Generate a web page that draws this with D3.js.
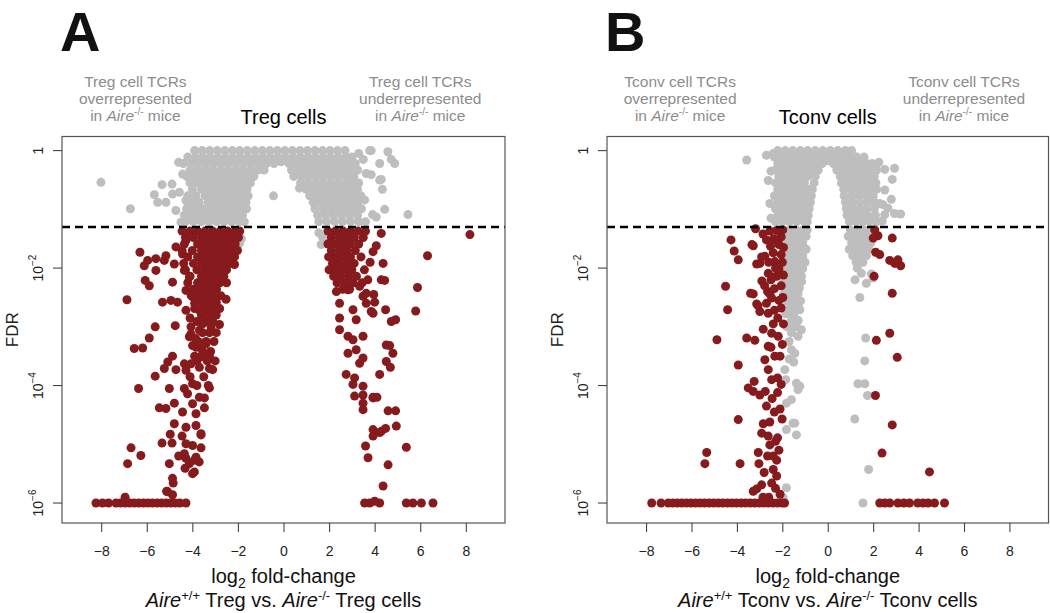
<!DOCTYPE html>
<html><head><meta charset="utf-8">
<script src="https://cdn.jsdelivr.net/npm/d3@7"></script>
<style>
body{margin:0;background:#fff}
svg{display:block}
text{font-family:"Liberation Sans",Arial,Helvetica,sans-serif}
</style>
</head><body>
<svg id="chart" width="1050" height="613"></svg>
<script>
// ---------------- data (log2 fold-change, log10 FDR) ----------------
const xTickValues = [-8,-6,-4,-2,0,2,4,6,8];
const yTickExponents = [0,-2,-4,-6];
const fdrCutoff = 0.05;
const panelLetters = ["A","B"];
const panelTitles = ["Treg cells","Tconv cells"];
const cellNames = ["Treg","Tconv"];

// Panel A (Treg) grey points: rows of [log10 FDR, [log2FC ...]]
const tregGrayRows = [
 [0,[-3.9,-3.57,-3.24,-2.91,-2.58,-2.25,-1.92,-1.59,-1.26,-0.93,-0.6,-0.27,0.06,0.39,0.72,1.05,1.38,1.71,2.04,2.37,2.7]],
 [-0.11,[-4.2,-3.87,-3.54,-3.21,-2.88,-2.55,-2.22,-1.89,-1.56,-1.23,-0.9,-0.57,-0.24,0.09,0.42,0.75,1.08,1.41,1.74,2.07,2.4,2.73,3.0]],
 [-0.19,[-0.1]],
 [-0.22,[-4.4,-4.05,-3.72,-3.39,-3.06,-2.73,-2.4,-2.07,-1.74,-1.41,-1.08,-0.75,-0.42,0.24,0.57,0.9,1.23,1.56,1.89,2.22,2.55,2.88,3.15]],
 [-0.33,[-4.1,-3.77,-3.44,-3.11,-2.78,-2.45,-2.12,-1.79,-1.46,-1.13,-0.85,0.35,0.68,1.01,1.34,1.67,2.0,2.33,2.66,2.99,3.25]],
 [-0.44,[-4.25,-3.92,-3.59,-3.26,-2.93,-2.6,-2.27,-1.94,-1.61,-1.3,0.45,0.78,1.11,1.44,1.77,2.1,2.43,2.76,3.09]],
 [-0.55,[-4.1,-3.77,-3.44,-3.11,-2.78,-2.45,-2.12,-1.79,-1.45,0.75,1.05,1.38,1.71,2.04,2.37,2.7,3.03,3.3]],
 [-0.66,[-4.0,-3.6,-3.27,-2.94,-2.61,-2.28,-1.95,-1.6,1.0,1.3,1.63,1.96,2.29,2.62,2.95,3.25]],
 [-0.77,[-4.2,-3.84,-3.44,-3.11,-2.78,-2.45,-2.12,-1.79,-1.55,1.15,1.45,1.78,2.11,2.44,2.77,3.1,3.4]],
 [-0.88,[-4.05,-3.7,-3.3,-2.97,-2.64,-2.31,-1.98,-1.65,1.3,1.62,1.95,2.28,2.61,2.94,3.27]],
 [-0.99,[-4.25,-3.9,-3.55,-3.2,-2.85,-2.52,-2.19,-1.86,-1.62,1.38,1.75,2.1,2.45,2.78,3.11,3.42]],
 [-1.10,[-4.1,-3.75,-3.4,-3.07,-2.74,-2.41,-2.08,-1.8,1.5,1.85,2.2,2.55,2.9,3.25]],
 [-1.21,[-4.3,-3.95,-3.6,-3.27,-2.94,-2.61,-2.28,-1.95,-1.72,1.55,1.9,2.25,2.6,2.95,3.3,3.6]]
];
const tregGrayPoints = [
 [-8.01,-0.54],[-6.72,-0.99],[-5.67,-0.75],[-5.33,-0.58],[-4.89,-0.57],[-4.87,-0.74],[-5.16,-0.88],[-5.52,-0.88],
 [-4.43,-0.40],[-4.57,-0.71],[-4.28,-0.85],[-4.72,-1.02],[-4.35,-1.1],[-3.99,-1.19],[-4.6,-0.2],[-4.5,-1.22],
 [3.78,0],[4.58,-0.02],[4.73,-0.15],[4.88,-0.22],[4.22,-0.22],[3.85,-0.41],[4.22,-0.5],[4.34,-0.66],[4.44,-1.0],
 [4.07,-1.13],[5.46,-1.09],[3.85,0],[4.29,-0.49],[3.56,-0.84],[3.91,-1.09],[3.63,-0.39],[3.3,-0.05],[3.5,-0.15],
 [-0.44,-0.77],[0.7,-0.64],
 [-2.0,-1.4],[-1.85,-1.5],[-1.93,-1.58],[1.55,-1.4],[1.71,-1.47],[1.9,-1.58],[1.65,-1.6]
];
// Panel A red (significant) points
const tregRedRows = [
 [-1.37,[-4.45,-4.1,-3.77,-3.44,-3.11,-2.78,-2.45,-2.12,-1.92,1.95,2.28,2.61,2.94,3.27,3.6]],
 [-1.48,[-4.3,-3.95,-3.6,-3.27,-2.94,-2.61,-2.28,-1.98,2.1,2.45,2.78,3.11,3.5]],
 [-1.59,[-4.35,-3.77,-3.44,-3.11,-2.78,-2.45,-2.12,1.95,2.28,2.61,2.94,3.3]],
 [-1.70,[-4.45,-4.0,-3.6,-3.27,-2.94,-2.61,-2.28,-2.02,2.1,2.45,2.78,3.15]],
 [-1.81,[-4.2,-3.77,-3.44,-3.11,-2.78,-2.45,-2.15,1.98,2.28,2.61,2.94,3.4]],
 [-1.92,[-4.38,-3.95,-3.6,-3.27,-2.94,-2.61,-2.3,2.15,2.45,2.8,3.1]],
 [-2.03,[-4.3,-3.8,-3.44,-3.11,-2.78,-2.5,2.0,2.3,2.65,3.0,3.55]],
 [-2.14,[-4.1,-3.6,-3.27,-2.94,-2.62,2.2,2.5,2.85,3.2]],
 [-2.25,[-4.2,-3.77,-3.44,-3.11,-2.8,-2.5,2.35,2.7,3.05,3.45]],
 [-2.36,[-3.95,-3.6,-3.27,-2.94,2.6,2.9]],
 [-2.47,[-4.05,-3.77,-3.44,-3.1,-2.75]],
 [-2.58,[-3.6,-3.27,-2.95]],
 [-2.69,[-3.9,-3.44,-3.1,-2.8]],
 [-2.80,[-3.6,-3.27,-2.95]],
 [-2.91,[-3.8,-3.44,-3.1]],
 [-3.10,[-3.55,-3.25,-2.95]],
 [-3.25,[-3.75,-3.4,-3.05]],
 [-3.42,[-3.55,-3.2]],
 [-3.58,[-3.8,-3.35,-3.0]],
 [-6.0,[-8.23,-7.94,-7.68,-7.35,-7.15,-6.95,-6.75,-6.55,-6.35,-6.15,-5.95,-5.75,-5.55,-5.35,-5.15,-4.95,-4.75,-4.55,-4.28,3.56,3.78,4.22,5.39,5.68,6.05,6.56]]
];
const tregRedPoints = [
 [-6.30,-1.73],[-6.11,-1.96],[-6.07,-2.21],[-5.89,-2.30],[-5.96,-1.87],[-5.6,-1.84],[-5.6,-2.04],[-5.23,-1.87],[-5.16,-1.79],
 [-4.79,-1.93],[-4.72,-1.64],[-4.87,-2.24],[-5.31,-2.58],[-4.94,-2.55],[-4.65,-2.58],[-6.87,-2.54],[-5.63,-3.0],[-4.75,-2.98],
 [-5.89,-3.19],[-6.55,-3.37],[-6.18,-3.36],[-4.87,-3.50],[-5.08,-3.6],[-5.23,-3.71],[-5.63,-3.84],[-4.72,-3.73],[-4.35,-3.63],
 [-3.99,-3.32],[-4.06,-3.12],[-6.36,-4.05],[-5.01,-4.05],[-4.35,-4.05],[-5.45,-4.38],[-4.79,-4.30],[-5.16,-4.39],[-4.43,-4.45],
 [-4.79,-4.65],[-4.97,-4.83],[-4.45,-4.86],[-5.33,-4.98],[-4.89,-4.98],[-6.69,-5.06],[-3.99,-5.02],[-6.26,-5.19],[-6.84,-5.33],
 [-5.01,-5.33],[-4.60,-5.20],[-4.28,-5.24],[-3.91,-5.27],[-4.32,-5.41],[-3.99,-5.50],[-4.84,-5.66],[-5.13,-5.80],[-6.95,-5.9],
 [-5.08,-5.81],[-4.87,-5.86],
 [-4.28,-1.53],[-4.43,-1.76],[-4.35,-2.04],[-4.13,-2.15],[-3.69,-2.32],[-3.25,-2.27],[-4.28,-2.38],[-3.99,-2.49],[-4.28,-2.72],
 [-3.69,-2.72],[-3.40,-2.83],[-4.06,-3.0],[-4.13,-3.17],[-3.69,-3.06],[-3.18,-3.0],[-3.40,-3.29],[-3.84,-3.35],[-3.62,-3.51],
 [-4.06,-3.63],[-4.28,-3.74],[-3.69,-3.69],[-3.25,-3.71],[-3.99,-3.97],[-4.21,-4.14],[-3.69,-4.2],[-3.99,-4.31],[-3.84,-4.48],
 [-4.28,-4.71],[-3.84,-4.68],[-3.62,-4.82],[-4.28,-4.99],[-4.35,-5.16],[-3.84,-5.22],[-4.13,-5.33],[-3.91,-5.47],[-4.87,-5.58],
 [-2.52,-2.53],[-2.15,-1.94],[-2.81,-2.96],[-3.11,-3.73],[-3.25,-4.04],[-3.47,-4.21],[-3.47,-4.38],[-3.62,-4.84],[-3.62,-5.06],[-3.7,-5.3],
 [-3.9,-2.6],[-4.1,-2.85],[-3.55,-2.95],[-3.85,-3.2],[-3.55,-3.3],[-3.25,-3.5],[-3.9,-3.5],[-3.5,-3.85],[-3.8,-4.0],[-4.1,-3.85],[-3.3,-4.0],
 [2.32,-2.40],[2.83,-2.37],[2.46,-2.60],[3.05,-2.71],[3.49,-2.48],[3.63,-2.60],[3.85,-2.74],[2.46,-2.85],[3.19,-2.88],[2.46,-3.05],
 [2.83,-3.16],[3.05,-3.22],[3.49,-3.16],[2.83,-3.45],[3.19,-3.39],[3.34,-3.62],[3.49,-3.53],[2.75,-3.81],[3.12,-3.87],[3.05,-3.98],
 [3.49,-4.01],[3.12,-4.18],[3.49,-4.16],[3.93,-4.21],[3.49,-4.3],[3.49,-4.41],[4.22,-3.81],[4.29,-2.2],[4.37,-1.92],[4.29,-1.41],
 [4.51,-3.31],[3.93,-4.75],[4.29,-4.78],[3.6,-5.03],[3.71,-5.23],[4.37,-5.71],[4.59,-5.35],[3.34,-2.31],[3.63,-2.43],
 [8.18,-1.43],[6.32,-1.79],[5.88,-2.33],[5.80,-2.73],[4.07,-1.62],[3.93,-1.72],[4.44,-2.21],[3.96,-2.45],[4.0,-2.58],[3.93,-2.77],
 [4.48,-2.71],[4.73,-2.91],[4.92,-2.88],[4.66,-3.32],[4.80,-3.45],[4.51,-3.59],[4.69,-3.69],[3.93,-4.2],[4.1,-4.2],[4.59,-4.43],
 [4.92,-4.43],[4.95,-4.69],[4.48,-4.73],[4.22,-4.80],[3.93,-4.86],[5.39,-5.05],[3.8,-1.9],[3.7,-2.2],[4.0,-5.97]
];

// Panel B (Tconv) grey points
const tconvGrayRows = [
 [0,[-2.2,-1.87,-1.54,-1.21,-0.88,-0.55,-0.22,0.11,0.44,0.77,1.05]],
 [-0.11,[-2.35,-2.02,-1.69,-1.36,-1.03,-0.7,-0.37,-0.04,0.29,0.62,0.95,1.28,1.6]],
 [-0.17,[0.0]],
 [-0.22,[-2.2,-1.87,-1.54,-1.21,-0.88,-0.55,-0.25,0.25,0.5,0.8,1.1,1.4,1.7,1.95]],
 [-0.33,[-2.3,-2.0,-1.69,-1.36,-1.03,-0.7,-0.42,0.4,0.7,1.0,1.3,1.6,1.9,2.15]],
 [-0.44,[-2.15,-1.85,-1.54,-1.21,-0.88,-0.55,0.55,0.85,1.15,1.45,1.75,2.05]],
 [-0.55,[-2.3,-2.0,-1.69,-1.36,-1.03,-0.6,0.6,0.92,1.25,1.55,1.85,2.12]],
 [-0.66,[-2.2,-1.85,-1.54,-1.21,-0.88,-0.68,0.7,1.0,1.3,1.6,1.9,2.15]],
 [-0.77,[-2.35,-2.0,-1.69,-1.36,-1.03,-0.72,0.72,1.05,1.38,1.7,2.0]],
 [-0.88,[-2.2,-1.85,-1.54,-1.21,-0.95,-0.76,0.78,1.1,1.42,1.75,2.05]],
 [-0.99,[-2.3,-2.0,-1.69,-1.36,-1.03,-0.82,0.82,1.1,1.4,1.7,2.05]],
 [-1.10,[-2.2,-1.85,-1.54,-1.21,-0.95,-0.86,0.85,1.15,1.45,1.75,2.1]],
 [-1.21,[-2.3,-2.0,-1.69,-1.36,-1.03,-0.9,0.95,1.25,1.55,1.85,2.15]],
 [-1.35,[-2.0,-1.7,-1.4,-1.1,-0.9,1.0,1.3,1.6,1.9]],
 [-1.46,[-1.85,-1.55,-1.25,-0.95,0.9,1.2,1.5,1.8,2.05]],
 [-1.57,[-2.0,-1.7,-1.4,-1.1,1.05,1.35,1.65,1.9]],
 [-1.68,[-1.85,-1.55,-1.25,-0.95,0.95,1.25,1.55,1.8]],
 [-1.79,[-2.0,-1.7,-1.4,-1.1,1.1,1.4,1.7]],
 [-1.90,[-1.85,-1.55,-1.25,-1.0,1.25,1.55]],
 [-2.01,[-1.95,-1.7,-1.4,-1.1]],
 [-2.12,[-1.85,-1.55,-1.25]],
 [-2.23,[-1.95,-1.7,-1.4,-1.15]],
 [-2.34,[-1.8,-1.5,-1.25]],
 [-2.45,[-1.95,-1.65,-1.35]],
 [-2.56,[-1.8,-1.5,-1.2]],
 [-2.67,[-1.65,-1.35]],
 [-2.78,[-1.85,-1.5]],
 [-2.89,[-1.6,-1.3]],
 [-3.00,[-1.8,-1.45]]
];
const tconvGrayPoints = [
 [-3.57,-0.16],[-2.70,-0.08],[-2.4,-0.05],[-2.62,-0.51],[-2.5,-0.35],[-2.55,-0.9],[-2.5,-1.15],
 [2.94,-0.30],[2.84,-0.49],[2.51,-0.67],[2.80,-0.83],[2.43,-0.92],[2.65,-0.98],[2.94,-1.07],[3.21,-1.08],[2.51,-1.09],
 [2.29,-0.90],[2.51,-0.32],[2.25,-0.2],[2.4,-1.2],
 [1.48,-2.09],[1.70,-2.26],[1.99,-2.17],[1.92,-2.1],[1.41,-2.5],[1.67,-3.19],[1.63,-3.58],[1.33,-3.97],[1.63,-3.97],
 [1.75,-4.17],[1.19,-4.57],[1.80,-5.43],[1.55,-6.0],[1.2,-2.2],[1.3,-2.0],
 [-1.82,-2.37],[-1.31,-2.65],[-1.16,-3.05],[-1.60,-3.39],[-1.89,-3.73],[-1.31,-4.07],[-1.60,-4.24],[-1.82,-4.30],[-1.53,-4.64],
 [-1.82,-4.75],[-1.38,-4.84],[-1.82,-5.74],[-1.96,-5.91],[-1.16,-1.92],[-1.16,-2.14],[-1.31,-2.43],[-1.23,-2.71],[-1.38,-2.94],
 [-1.31,-3.16],[-1.45,-3.45],[-1.45,-4.64],[-1.3,-4.0],[-1.6,-3.1],[-1.7,-3.25],[-1.5,-3.6],[-1.7,-3.55],[-1.85,-3.9],[-1.6,-2.2],
 [-1.38,-3.96],[-1.23,-4.01]
];
const tconvRedRows = [
 [-6.0,[-7.75,-7.34,-7.02,-6.82,-6.62,-6.42,-6.22,-6.02,-5.82,-5.62,-5.42,-5.22,-5.02,-4.82,-4.62,-4.42,-4.22,-4.02,-3.82,-3.62,
        -3.42,-3.22,-3.02,-2.82,-2.62,-2.42,-2.22,-2.02,-1.9,2.29,2.51,2.73,3.09,3.35,3.6,3.96,4.2,4.42,4.7,5.14]]
];
const tconvRedPoints = [
 [2.07,-1.35],[2.21,-1.45],[2.0,-1.49],[2.84,-1.49],[2.11,-1.73],[2.29,-1.77],[2.73,-1.87],[3.09,-1.86],[3.21,-1.96],[2.95,-1.92],
 [2.04,-2.14],[2.84,-2.43],[2.73,-3.11],[2.14,-3.23],[3.06,-3.52],[2.10,-4.17],[2.84,-4.67],[2.39,-5.15],[4.48,-5.47],
 [-4.26,-1.52],[-4.12,-1.71],[-3.94,-1.86],[-4.5,-2.31],[-4.41,-2.71],[-4.88,-3.22],[-3.94,-3.65],[-3.94,-4.58],[-5.33,-5.14],
 [-5.41,-5.33],[-3.86,-5.33],[-3.40,-2.43],[-3.34,-1.60],[-3.57,-3.19],[-3.21,-3.23],[-3.13,-2.61],[-3.50,-4.04],[-3.28,-4.1],
 [-2.99,-4.16],[-3.24,-3.93],
 [-3.18,-1.33],[-2.85,-1.42],[-2.55,-1.37],[-2.25,-1.36],[-1.98,-1.35],[-2.05,-1.47],[-2.38,-1.5],[-2.7,-1.52],[-2.52,-1.63],
 [-2.15,-1.6],[-1.95,-1.65],[-2.05,-1.77],[-2.4,-1.74],[-2.77,-1.80],[-2.99,-1.92],[-2.33,-1.89],[-2.0,-1.9],[-2.15,-2.01],
 [-2.62,-2.09],[-2.25,-2.14],[-1.95,-2.12],[-2.9,-2.22],[-2.65,-2.40],[-2.35,-2.35],[-2.05,-2.3],[-2.47,-2.51],[-2.15,-2.55],
 [-2.99,-2.74],[-2.62,-2.77],[-2.35,-2.72],[-2.05,-2.68],[-2.84,-3.04],[-2.47,-3.11],[-2.18,-3.16],[-2.62,-3.33],[-2.0,-3.3],
 [-2.33,-3.50],[-2.77,-3.56],[-2.62,-3.73],[-2.47,-3.90],[-2.21,-3.87],[-2.21,-4.12],[-2.45,-4.22],[-2.7,-4.35],[-2.01,-4.57],
 [-2.84,-4.65],[-2.55,-4.62],[-2.91,-4.81],[-2.62,-4.86],[-2.21,-4.89],[-2.55,-5.01],[-2.3,-4.95],[-3.06,-5.14],[-2.65,-5.20],
 [-2.25,-5.27],[-3.03,-5.33],[-2.40,-5.43],[-2.80,-5.48],[-2.25,-5.54],[-2.47,-5.66],[-2.91,-5.69],[-3.13,-5.76],[-2.3,-5.75],
 [-3.28,-5.80],[-2.1,-5.85],[-2.6,-5.9],[-2.7,-2.6],[-2.4,-2.95],[-2.1,-3.5],[-2.5,-3.35],[-2.05,-3.98],[-2.35,-4.45],[-2.1,-4.4],
 [-2.75,-4.1],[-2.4,-5.2],[-2.15,-5.1],[-2.85,-5.9],[-2.2,-1.55],[-2.6,-1.9],[-2.3,-2.0],[-1.98,-2.5],[-2.5,-2.2],[-2.78,-2.3],
 [-2.2,-2.85],[-1.95,-2.95],[-3.28,-1.62],[-2.91,-1.81],[-3.13,-1.93],[-2.4,-2.15],[-3.28,-2.44],[-3.07,-2.64],[-2.55,-2.44]
];

// ---------------- drawing ----------------
const svg = d3.select("#chart");
svg.append("rect").attr("width",1050).attr("height",613).attr("fill","#fff");

const GREY = "#bebebe", RED = "#861a1c", ANNOT = "#8c8c8c";
const DOT_R = 4.5;
const rowsToPoints = rows => rows.flatMap(([ly, xs]) => xs.map(x => [x, ly]));

const panels = [
  {letter:panelLetters[0], title:panelTitles[0], cell:cellNames[0], box:{l:62,r:505,t:136.5,b:523},
   gray: rowsToPoints(tregGrayRows).concat(tregGrayPoints), red: rowsToPoints(tregRedRows).concat(tregRedPoints)},
  {letter:panelLetters[1], title:panelTitles[1], cell:cellNames[1], box:{l:607,r:1048.5,t:136.5,b:523},
   gray: rowsToPoints(tconvGrayRows).concat(tconvGrayPoints), red: rowsToPoints(tconvRedRows).concat(tconvRedPoints)}
];

panels.forEach(p => {
  const {l,r,t,b} = p.box;
  const cx = (l + r) / 2;
  const x = d3.scaleLinear().domain([-9.72, 9.72]).range([l, r]);
  const y = d3.scaleLog().domain([Math.pow(10,-6.34), Math.pow(10,0.24)]).range([b, t]);
  const g = svg.append("g");

  // panel letter
  g.append("text").attr("x", l - 2).attr("y", 50.5).attr("font-size", 56).attr("font-weight", 900)
    .attr("fill", "#111").text(p.letter);

  // annotations
  const annot = (ax, line2) => {
    const tx = g.append("text").attr("text-anchor","middle").attr("font-size",15.5).attr("fill",ANNOT);
    tx.append("tspan").attr("x", ax).attr("y", 87).text(p.cell + " cell TCRs");
    tx.append("tspan").attr("x", ax).attr("y", 104).text(line2);
    const t3 = tx.append("tspan").attr("x", ax).attr("y", 121);
    t3.append("tspan").text("in ");
    t3.append("tspan").attr("font-style","italic").text("Aire");
    t3.append("tspan").attr("font-size",10).attr("dy",-6).text("-/-");
    t3.append("tspan").attr("dy",6).text(" mice");
  };
  annot(x(-6.5), "overrepresented");
  annot(x(6.0), "underrepresented");

  // title
  g.append("text").attr("x", cx).attr("y", 124).attr("text-anchor","middle").attr("font-size",20)
    .attr("fill","#000").text(p.title);

  // points
  g.append("g").selectAll("circle").data(p.gray).join("circle")
    .attr("cx", d => x(d[0])).attr("cy", d => y(Math.pow(10, d[1]))).attr("r", DOT_R).attr("fill", GREY);
  g.append("g").selectAll("circle").data(p.red).join("circle")
    .attr("cx", d => x(d[0])).attr("cy", d => y(Math.pow(10, d[1]))).attr("r", DOT_R).attr("fill", RED);

  // cutoff line
  g.append("line").attr("x1", l).attr("x2", r).attr("y1", y(fdrCutoff)).attr("y2", y(fdrCutoff))
    .attr("stroke","#000").attr("stroke-width",2.6).attr("stroke-dasharray","8,5");

  // box
  g.append("rect").attr("x", l).attr("y", t).attr("width", r - l).attr("height", b - t)
    .attr("fill","none").attr("stroke","#555").attr("stroke-width",1.2);

  // x axis
  const xa = g.append("g").attr("transform", `translate(0,${b})`)
    .call(d3.axisBottom(x).tickValues(xTickValues).tickSize(9).tickPadding(14).tickFormat(d3.format("d")));
  xa.select(".domain").remove();
  xa.selectAll(".tick line").attr("stroke","#444").attr("stroke-width",1.1);
  xa.selectAll(".tick text").attr("font-size",14).attr("fill","#222")
    .attr("font-family",'"Liberation Sans",Arial,sans-serif');

  // y axis
  const ya = g.append("g");
  yTickExponents.forEach(e => {
    const yy = y(Math.pow(10, e));
    ya.append("line").attr("x1", l - 9).attr("x2", l).attr("y1", yy).attr("y2", yy)
      .attr("stroke","#444").attr("stroke-width",1.1);
    const tx = ya.append("text").attr("transform", `translate(${l - 19},${yy}) rotate(-90)`)
      .attr("text-anchor","middle").attr("font-size",14).attr("fill","#222");
    if (e === 0) tx.text("1");
    else {
      tx.append("tspan").text("10");
      tx.append("tspan").attr("font-size",10).attr("dy",-7).text("\u2212" + Math.abs(e));
    }
  });
  g.append("text").attr("transform", `translate(${l - 44},${(t + b) / 2}) rotate(-90)`)
    .attr("text-anchor","middle").attr("font-size",17).attr("fill","#222").text("FDR");

  // x labels
  const xl = g.append("text").attr("x", cx).attr("y", 583).attr("text-anchor","middle")
    .attr("font-size",20).attr("fill","#111");
  xl.append("tspan").text("log");
  xl.append("tspan").attr("font-size",14).attr("dy",5).text("2");
  xl.append("tspan").attr("dy",-5).text(" fold-change");

  const sl = g.append("text").attr("x", cx).attr("y", 607).attr("text-anchor","middle")
    .attr("font-size",20).attr("fill","#111");
  sl.append("tspan").attr("font-style","italic").text("Aire");
  sl.append("tspan").attr("font-size",13).attr("dy",-7).text("+/+");
  sl.append("tspan").attr("dy",7).text(" " + p.cell + " vs. ");
  sl.append("tspan").attr("font-style","italic").text("Aire");
  sl.append("tspan").attr("font-size",13).attr("dy",-7).text("-/-");
  sl.append("tspan").attr("dy",7).text(" " + p.cell + " cells");
});
</script>
</body></html>
